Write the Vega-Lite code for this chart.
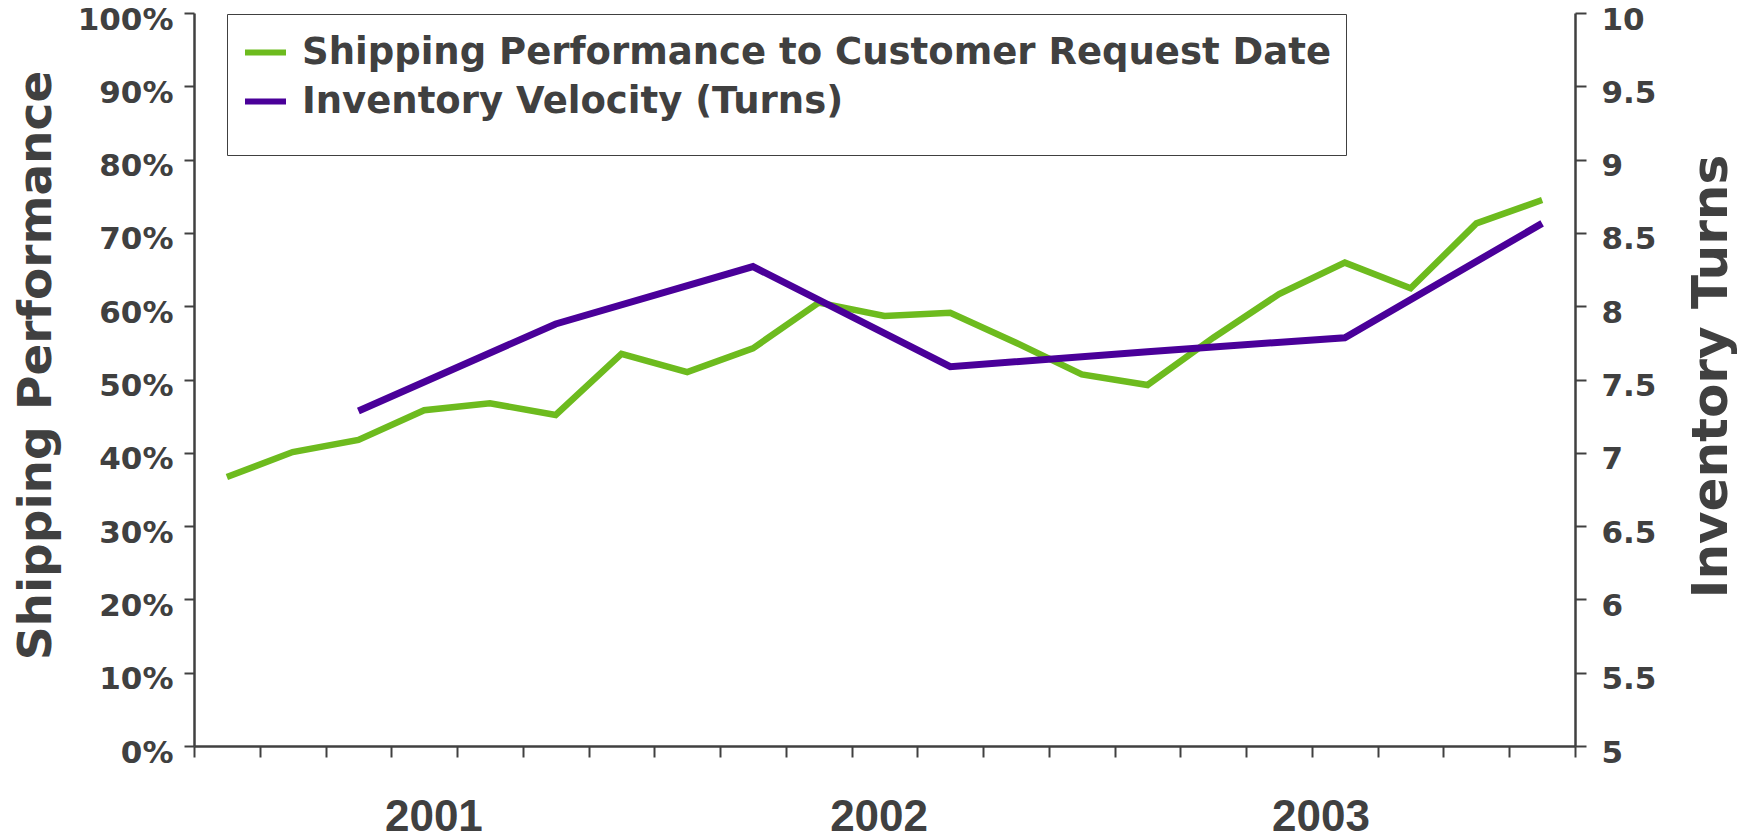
{
  "$schema": "https://vega.github.io/schema/vega-lite/v6.json",
  "width": 1381,
  "height": 733,
  "autosize": "none",
  "padding": {"left": 194, "top": 13, "right": 174, "bottom": 93},
  "background": "white",
  "data": {
    "values": [
      {"period": 1, "series": "Shipping Performance to Customer Request Date", "value": 0.367},
      {"period": 2, "series": "Shipping Performance to Customer Request Date", "value": 0.401},
      {"period": 3, "series": "Shipping Performance to Customer Request Date", "value": 0.4175},
      {"period": 4, "series": "Shipping Performance to Customer Request Date", "value": 0.458},
      {"period": 5, "series": "Shipping Performance to Customer Request Date", "value": 0.4675},
      {"period": 6, "series": "Shipping Performance to Customer Request Date", "value": 0.4516},
      {"period": 7, "series": "Shipping Performance to Customer Request Date", "value": 0.535},
      {"period": 8, "series": "Shipping Performance to Customer Request Date", "value": 0.510},
      {"period": 9, "series": "Shipping Performance to Customer Request Date", "value": 0.5425},
      {"period": 10, "series": "Shipping Performance to Customer Request Date", "value": 0.6048},
      {"period": 11, "series": "Shipping Performance to Customer Request Date", "value": 0.5866},
      {"period": 12, "series": "Shipping Performance to Customer Request Date", "value": 0.5911},
      {"period": 13, "series": "Shipping Performance to Customer Request Date", "value": 0.5502},
      {"period": 14, "series": "Shipping Performance to Customer Request Date", "value": 0.507},
      {"period": 15, "series": "Shipping Performance to Customer Request Date", "value": 0.4925},
      {"period": 16, "series": "Shipping Performance to Customer Request Date", "value": 0.557},
      {"period": 17, "series": "Shipping Performance to Customer Request Date", "value": 0.6166},
      {"period": 18, "series": "Shipping Performance to Customer Request Date", "value": 0.6594},
      {"period": 19, "series": "Shipping Performance to Customer Request Date", "value": 0.6244},
      {"period": 20, "series": "Shipping Performance to Customer Request Date", "value": 0.713},
      {"period": 21, "series": "Shipping Performance to Customer Request Date", "value": 0.7449},
      {"period": 3, "series": "Inventory Velocity (Turns)", "value": 7.285},
      {"period": 6, "series": "Inventory Velocity (Turns)", "value": 7.879},
      {"period": 9, "series": "Inventory Velocity (Turns)", "value": 8.27},
      {"period": 12, "series": "Inventory Velocity (Turns)", "value": 7.587},
      {"period": 15, "series": "Inventory Velocity (Turns)", "value": 7.69},
      {"period": 18, "series": "Inventory Velocity (Turns)", "value": 7.785},
      {"period": 21, "series": "Inventory Velocity (Turns)", "value": 8.565}
    ]
  },
  "config": {
    "view": {"stroke": null},
    "axis": {
      "grid": false,
      "domainColor": "#404040",
      "domainWidth": 2.5,
      "tickColor": "#404040",
      "tickWidth": 2,
      "labelColor": "#404040",
      "labelFont": "DejaVu Sans",
      "labelFontWeight": "bold",
      "labelFontSize": 31,
      "titleColor": "#404040",
      "titleFont": "DejaVu Sans",
      "titleFontWeight": "bold",
      "titleFontSize": 47
    },
    "legend": {
      "orient": "none",
      "legendX": 33,
      "legendY": 1,
      "direction": "vertical",
      "strokeColor": "#404040",
      "fillColor": "white",
      "padding": 15,
      "symbolType": "stroke",
      "symbolStrokeWidth": 6,
      "symbolSize": 1681,
      "labelFont": "DejaVu Sans",
      "labelFontWeight": "bold",
      "labelFontSize": 37,
      "labelColor": "#404040",
      "labelLimit": 0,
      "labelOffset": 13,
      "labelBaseline": "middle",
      "rowPadding": 7,
      "titleOrient": "bottom",
      "titleFontSize": 16,
      "titlePadding": 4
    }
  },
  "layer": [
    {
      "transform": [{"filter": "datum.series === 'Shipping Performance to Customer Request Date'"}],
      "mark": {"type": "line", "strokeWidth": 6.5, "strokeCap": "butt"},
      "encoding": {
        "x": {
          "field": "period",
          "type": "quantitative",
          "scale": {"domain": [0.5, 21.5], "nice": false, "zero": false},
          "axis": {
            "title": null,
            "orient": "bottom",
            "labels": false,
            "tickSize": 11,
            "values": [0.5, 1.5, 2.5, 3.5, 4.5, 5.5, 6.5, 7.5, 8.5, 9.5, 10.5, 11.5, 12.5, 13.5, 14.5, 15.5, 16.5, 17.5, 18.5, 19.5, 20.5, 21.5]
          }
        },
        "y": {
          "field": "value",
          "type": "quantitative",
          "scale": {"domain": [0, 1], "nice": false},
          "axis": {
            "title": "Shipping Performance",
            "orient": "left",
            "values": [0, 0.1, 0.2, 0.3, 0.4, 0.5, 0.6, 0.7, 0.8, 0.9, 1],
            "format": ".0%",
            "tickSize": 10,
            "labelPadding": 11,
            "labelOffset": 7,
            "titleAngle": 270,
            "titleBaseline": "alphabetic",
            "titleAlign": "center",
            "titleX": -144,
            "titleY": 352
          }
        },
        "color": {
          "field": "series",
          "type": "nominal",
          "scale": {
            "domain": ["Shipping Performance to Customer Request Date", "Inventory Velocity (Turns)"],
            "range": ["#6DBB1E", "#4A0099"]
          },
          "legend": {"title": " "}
        }
      }
    },
    {
      "transform": [{"filter": "datum.series === 'Inventory Velocity (Turns)'"}],
      "mark": {"type": "line", "strokeWidth": 7, "strokeCap": "butt"},
      "encoding": {
        "x": {
          "field": "period",
          "type": "quantitative",
          "scale": {"domain": [0.5, 21.5], "nice": false, "zero": false},
          "axis": {
            "title": null,
            "orient": "bottom",
            "domain": false,
            "ticks": false,
            "tickSize": 0,
            "values": [4.14, 10.91, 17.63],
            "labelExpr": "datum.value < 7 ? '2001' : datum.value < 14 ? '2002' : '2003'",
            "labelFont": "Liberation Sans",
            "labelFontSize": 44,
            "labelBaseline": "alphabetic",
            "labelPadding": 84
          }
        },
        "y": {
          "field": "value",
          "type": "quantitative",
          "scale": {"domain": [5, 10], "nice": false, "zero": false},
          "axis": {
            "title": "Inventory Turns",
            "orient": "right",
            "values": [5, 5.5, 6, 6.5, 7, 7.5, 8, 8.5, 9, 9.5, 10],
            "format": "~g",
            "tickSize": 11,
            "labelPadding": 15,
            "labelOffset": 7,
            "titleAngle": 270,
            "titleBaseline": "alphabetic",
            "titleAlign": "center",
            "titleFontSize": 50,
            "titleX": 151,
            "titleY": 363
          }
        },
        "color": {
          "field": "series",
          "type": "nominal",
          "legend": {"title": " "}
        }
      }
    }
  ],
  "resolve": {"scale": {"y": "independent"}, "axis": {"x": "independent"}}
}
